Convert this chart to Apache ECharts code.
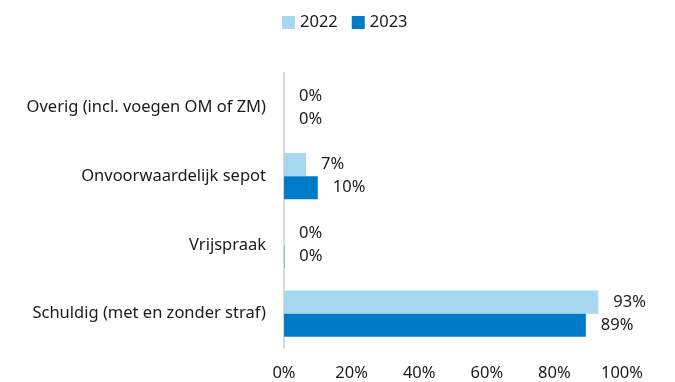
<!DOCTYPE html>
<html>
<head>
<meta charset="utf-8">
<script src="https://cdn.jsdelivr.net/npm/echarts@6/dist/echarts.min.js"></script>
<style>
  html, body { margin: 0; padding: 0; background: #fff; }
  #chart { width: 675px; height: 382px; }
</style>
</head>
<body>
<div id="chart"></div>
<script>
// Afdoening per categorie, aandeel in procenten
const categories = [
  'Overig (incl. voegen OM of ZM)',
  'Onvoorwaardelijk sepot',
  'Vrijspraak',
  'Schuldig (met en zonder straf)'
];
const values2022 = [0, 6.5, 0, 93];
const values2023 = [0, 10, 0.1, 89.3];
const xTicks = [0, 20, 40, 60, 80, 100];

const FONT = 'Noto Sans';
const TEXT = '#1a1a1a';
const FS = 16.5;

const chart = echarts.init(document.getElementById('chart'), null, { renderer: 'canvas' });

function barLabel(offsetX) {
  return {
    show: true,
    position: 'right',
    distance: offsetX,
    color: TEXT,
    fontFamily: FONT,
    fontSize: FS,
    formatter: p => Math.round(p.value) + '%'
  };
}

chart.setOption({
  animation: false,
  textStyle: { fontFamily: FONT },
  legend: {
    top: 9,
    left: 277,
    itemWidth: 13,
    itemHeight: 13,
    itemGap: 14,
    icon: 'rect',
    textStyle: { color: TEXT, fontSize: FS, fontFamily: FONT },
    data: ['2022', '2023']
  },
  grid: { left: 284, right: 53, top: 73, bottom: 32, containLabel: false },
  xAxis: {
    type: 'value',
    min: xTicks[0],
    max: xTicks[xTicks.length - 1],
    interval: 20,
    axisLine: { show: false },
    axisTick: { show: false },
    splitLine: { show: false },
    axisLabel: {
      color: TEXT,
      fontSize: FS,
      fontFamily: FONT,
      margin: 17,
      formatter: v => v + '%'
    }
  },
  yAxis: {
    type: 'category',
    inverse: true,
    data: categories,
    axisLine: { show: true, lineStyle: { color: '#d9d9d9', width: 2 } },
    axisTick: { show: false },
    axisLabel: {
      color: TEXT,
      fontSize: FS,
      fontFamily: FONT,
      margin: 18
    }
  },
  series: [
    {
      name: '2022',
      type: 'bar',
      data: values2022,
      barGap: '0%',
      barCategoryGap: '33%',
      itemStyle: { color: '#a6d9f0' },
      label: barLabel(15)
    },
    {
      name: '2023',
      type: 'bar',
      data: values2023,
      itemStyle: { color: '#007bc7' },
      label: barLabel(15)
    }
  ]
});
</script>
</body>
</html>
